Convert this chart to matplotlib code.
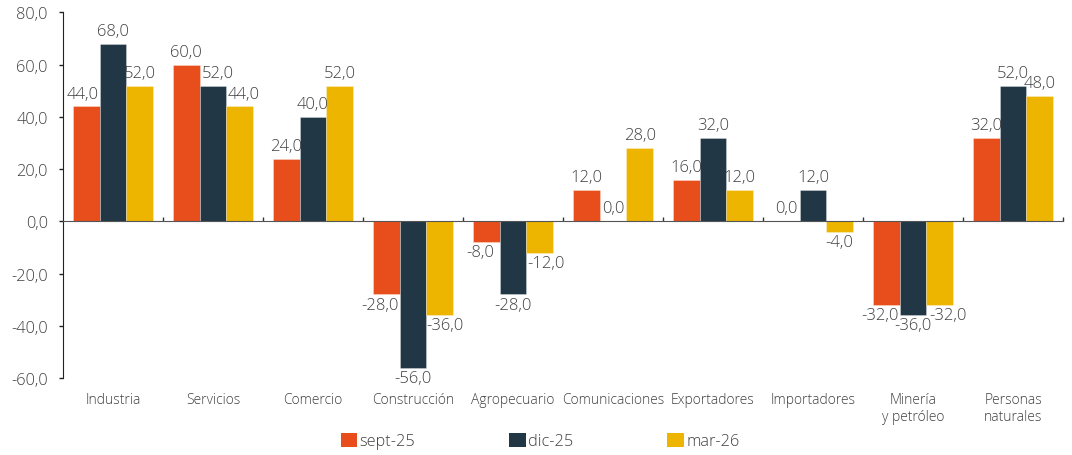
import numpy as np
import matplotlib
matplotlib.use("Agg")
import matplotlib.pyplot as plt
from matplotlib.patches import Patch

plt.rcParams['font.family'] = ['Open Sans', 'DejaVu Sans']
plt.rcParams['font.weight'] = 'light'

categorias = ['Industria', 'Servicios', 'Comercio', 'Construcción', 'Agropecuario',
              'Comunicaciones', 'Exportadores', 'Importadores', 'Minería\ny petróleo',
              'Personas\nnaturales']
series = ['sept-25', 'dic-25', 'mar-26']
sept25 = [44, 60, 24, -28, -8, 12, 16, 0, -32, 32]
dic25 = [68, 52, 40, -56, -28, 0, 32, 12, -36, 52]
mar26 = [52, 44, 52, -36, -12, 28, 12, -4, -32, 48]
colores = ['#E84E1B', '#213746', '#EDB500']
texto = '#404040'

# small horizontal nudges (px) for labels that were moved to avoid overlaps
nudge = {(0, 0): -4, (1, 1): 5, (2, 1): 4, (0, 3): -6, (2, 3): 5,
         (0, 4): -6, (2, 4): 6, (0, 8): -6, (2, 8): 8}

fig = plt.figure(figsize=(10.72, 4.56), dpi=100)
ax = fig.add_axes([63 / 1072, 1 - 379 / 456, 1000 / 1072, (379 - 13.4) / 456])

x = np.arange(len(categorias))
w = 0.8 / 3
for i, vals in enumerate([sept25, dic25, mar26]):
    pos = x + (i - 1) * w
    ax.bar(pos, vals, width=w, color=colores[i], edgecolor=(1, 1, 1, 0.35),
           linewidth=0.6, label=series[i], zorder=2)
    for j, (xp, v) in enumerate(zip(pos, vals)):
        lab = f'{v:.1f}'.replace('.', ',')
        dx = nudge.get((i, j), 0) * 0.72
        if v >= 0:
            ax.annotate(lab, (xp, v), xytext=(dx, 3.5), textcoords='offset points',
                        ha='center', va='bottom', fontsize=12, color=texto, zorder=4)
        else:
            ax.annotate(lab, (xp, v), xytext=(dx, -1.5), textcoords='offset points',
                        ha='center', va='top', fontsize=12, color=texto, zorder=4)

ax.set_xlim(-0.5, len(categorias) - 0.5)
ax.set_ylim(-60, 80)
ax.set_yticks(np.arange(-60, 81, 20))
ax.set_yticklabels([f'{t:.1f}'.replace('.', ',') for t in np.arange(-60, 81, 20)])
ax.tick_params(axis='y', direction='out', length=3, width=1, colors='#222222',
               labelcolor=texto, labelsize=11.8, pad=8)

ax.spines['top'].set_visible(False)
ax.spines['right'].set_visible(False)
ax.spines['bottom'].set_position(('data', 0))
ax.spines['bottom'].set_color('#555555')
ax.spines['left'].set_color('#222222')
ax.set_xticks(np.arange(0.5, len(categorias), 1))
ax.set_xticklabels([])
ax.tick_params(axis='x', direction='in', length=3, width=1, colors='#333333')

for xi, c in zip(x, categorias):
    ax.annotate(c, (xi, 0), xycoords=('data', 'axes fraction'), xytext=(0, -10),
                textcoords='offset points', ha='center', va='top', fontsize=10,
                color=texto, linespacing=1.15)

handles = [Patch(facecolor=c, label=s) for c, s in zip(colores, series)]
fig.legend(handles=handles, loc='center', bbox_to_anchor=(540 / 1072, 1 - 442 / 456),
           ncol=3, frameon=False, fontsize=11.7, handlelength=1.0, handleheight=1.0,
           handletextpad=0.15, columnspacing=5.8, labelcolor=texto)

fig.savefig('out.png', dpi=100)
